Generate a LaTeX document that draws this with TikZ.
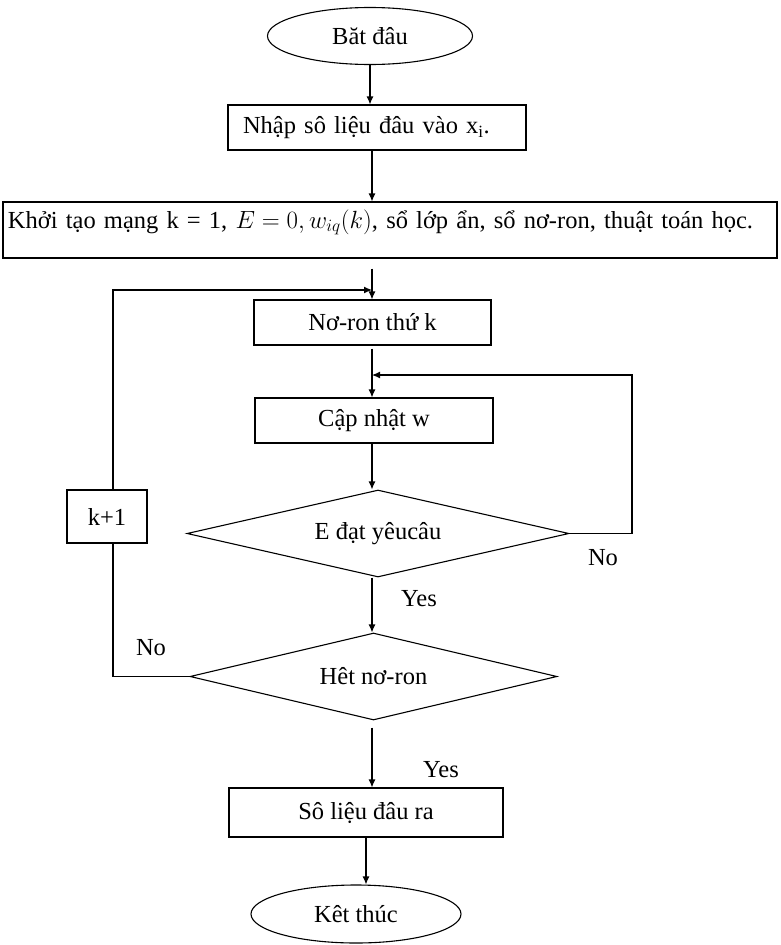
\documentclass[tikz,border=0pt]{standalone}
\usepackage{fontspec}
\setmainfont{Liberation Serif}
\usetikzlibrary{shapes.geometric,arrows.meta,calc}
\begin{document}
\begin{tikzpicture}[x=1pt,y=-1pt,
  every node/.style={font=\fontsize{24.5}{28}\selectfont},
  base/.style={draw,line width=1.1pt,inner sep=0pt},
  boxnode/.style={base,rectangle},
  termnode/.style={base,ellipse},
  decnode/.style={base,diamond,aspect=4.4},
  lbl/.style={inner sep=0pt},
  conn/.style={line width=1.1pt},
  arr/.style={conn,-{Latex[length=8pt,width=7pt]}}]
\useasboundingbox (0,0) rectangle (780,945);
\coordinate (col) at (372,0);
\node[termnode,minimum width=205,minimum height=57] (start) at (370,36) {Băt đâu};
\node[boxnode,minimum width=298,minimum height=45,text width=268,align=left] (input) at (377,127.5) {Nhập sô liệu đâu vào x\textsubscript{i}.};
\node[boxnode,minimum width=774,text width=764,align=left,inner xsep=5pt,inner ysep=7pt,text height=19pt,text depth=23pt] (init) at (390,230) {Khởi tạo mạng k = 1, $E=0, w_{iq}(k)$, sổ lớp ẩn, sổ nơ-ron, thuật toán học.};
\node[boxnode,minimum width=237,minimum height=45] (neuron) at (372.5,322.5) {Nơ-ron thứ k};
\node[boxnode,minimum width=238,minimum height=45] (update) at (374,420.5) {Cập nhật w};
\node[decnode,minimum width=382,minimum height=87] (cond1) at (378,533.5) {E đạt yêucâu};
\node[boxnode,minimum width=80,minimum height=53] (kbox) at (107,516.5) {k+1};
\node[decnode,minimum width=367,minimum height=87] (cond2) at (373.5,676.5) {Hêt nơ-ron};
\node[boxnode,minimum width=274,minimum height=49] (output) at (366,812.5) {Sô liệu đâu ra};
\node[termnode,minimum width=210,minimum height=58] (stop) at (356,914) {Kêt thúc};
\coordinate (j1) at (372,290);
\coordinate (j2) at (372,375);
\coordinate (rr) at (632,375);
\coordinate (lx) at (113,0);
% main column
\draw[arr] (start.south) -- (start.south |- input.north);
\draw[arr] (input.south -| col) -- (init.north -| col);
\draw[arr] ([yshift=-10pt]init.south -| col) -- (neuron.north -| col);
\draw[arr] ([yshift=-3pt]neuron.south -| col) -- (update.north -| col);
\draw[arr] (update.south -| col) -- (cond1.north -| col);
\draw[arr] (cond1.south -| col) -- (cond2.north -| col);
\draw[arr] ([yshift=-7pt]cond2.south -| col) -- (output.north -| col);
\draw[arr] (output.south) -- (output.south |- stop.north);
% loops
\draw[arr] (kbox.north -| lx) -- (j1 -| lx) -- (j1);
\draw[arr] (cond1.east) -- (cond1.east -| rr) -- (rr) -- (j2);
\draw[conn] (cond2.west) -- (cond2.west -| lx) -- (kbox.south -| lx);
% labels
\node[lbl] (no1) at (603,558) {No};
\node[lbl] (yes1) at (419,599) {Yes};
\node[lbl] (no2) at (151,648) {No};
\node[lbl] (yes2) at (441,770) {Yes};
\end{tikzpicture}
\end{document}
